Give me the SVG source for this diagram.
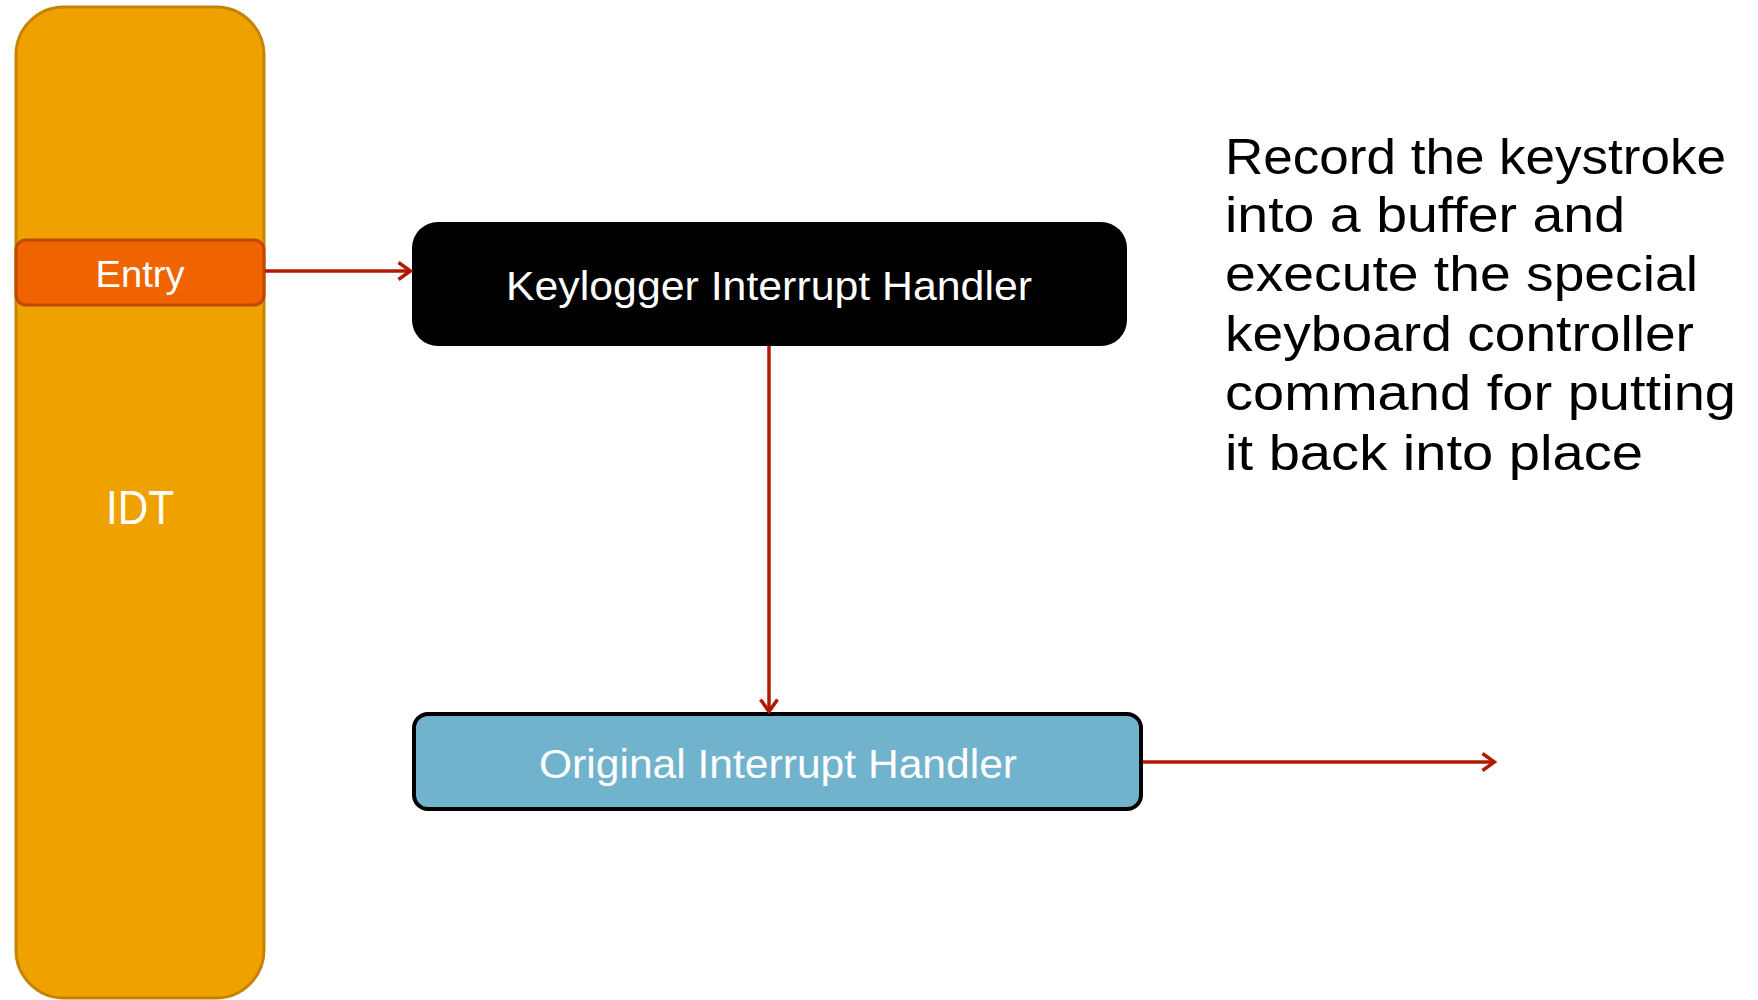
<svg xmlns="http://www.w3.org/2000/svg" width="1758" height="1000" viewBox="0 0 1758 1000">
<style>
.lbl{font-family:"Liberation Sans","DejaVu Sans",sans-serif;fill:#ffffff;text-anchor:middle}
.note{font-family:"Liberation Sans","DejaVu Sans",sans-serif;fill:#000000;font-size:50px}
.conn{stroke:#B01A00;stroke-width:3.5;fill:none}
</style>
<defs>
<marker id="arr" viewBox="0 0 16 22" refX="14.5" refY="11" markerWidth="16" markerHeight="22" markerUnits="userSpaceOnUse" orient="auto">
<path d="M2,2.5 L14,11 L2,19.5" fill="none" stroke="#B01A00" stroke-width="3.5"/>
</marker>
</defs>
<rect width="1758" height="1000" fill="#ffffff"/>
<g id="idt">
<rect x="16" y="7" width="248" height="991" rx="48" ry="48" fill="#EFA100" stroke="#C58300" stroke-width="3"/>
<text class="lbl" x="140" y="524" font-size="49" textLength="68" lengthAdjust="spacingAndGlyphs">IDT</text>
</g>
<g id="entry">
<rect x="16" y="240" width="248" height="65" rx="10" ry="10" fill="#F06400" stroke="#C04800" stroke-width="3"/>
<text class="lbl" x="140" y="287" font-size="37" textLength="89" lengthAdjust="spacingAndGlyphs">Entry</text>
</g>
<g id="keylogger">
<rect x="412" y="222" width="715" height="124" rx="26" ry="26" fill="#000000"/>
<text class="lbl" x="769" y="300" font-size="40" textLength="526" lengthAdjust="spacingAndGlyphs">Keylogger Interrupt Handler</text>
</g>
<g id="original">
<rect x="414" y="714" width="727" height="95" rx="14" ry="14" fill="#71B3CC" stroke="#000000" stroke-width="4"/>
<text class="lbl" x="778" y="778" font-size="40" textLength="478" lengthAdjust="spacingAndGlyphs">Original Interrupt Handler</text>
</g>
<g id="note">
<text class="note" x="1225" y="174" textLength="501" lengthAdjust="spacingAndGlyphs">Record the keystroke</text>
<text class="note" x="1225" y="232" textLength="400" lengthAdjust="spacingAndGlyphs">into a buffer and</text>
<text class="note" x="1225" y="291" textLength="473" lengthAdjust="spacingAndGlyphs">execute the special</text>
<text class="note" x="1225" y="351" textLength="469" lengthAdjust="spacingAndGlyphs">keyboard controller</text>
<text class="note" x="1225" y="410" textLength="511" lengthAdjust="spacingAndGlyphs">command for putting</text>
<text class="note" x="1225" y="470" textLength="418" lengthAdjust="spacingAndGlyphs">it back into place</text>
</g>
<g id="connectors">
<line class="conn" x1="265" y1="271" x2="411" y2="271" marker-end="url(#arr)"/>
<line class="conn" x1="769" y1="346" x2="769" y2="712" marker-end="url(#arr)"/>
<line class="conn" x1="1143" y1="762" x2="1495" y2="762" marker-end="url(#arr)"/>
</g>
</svg>
